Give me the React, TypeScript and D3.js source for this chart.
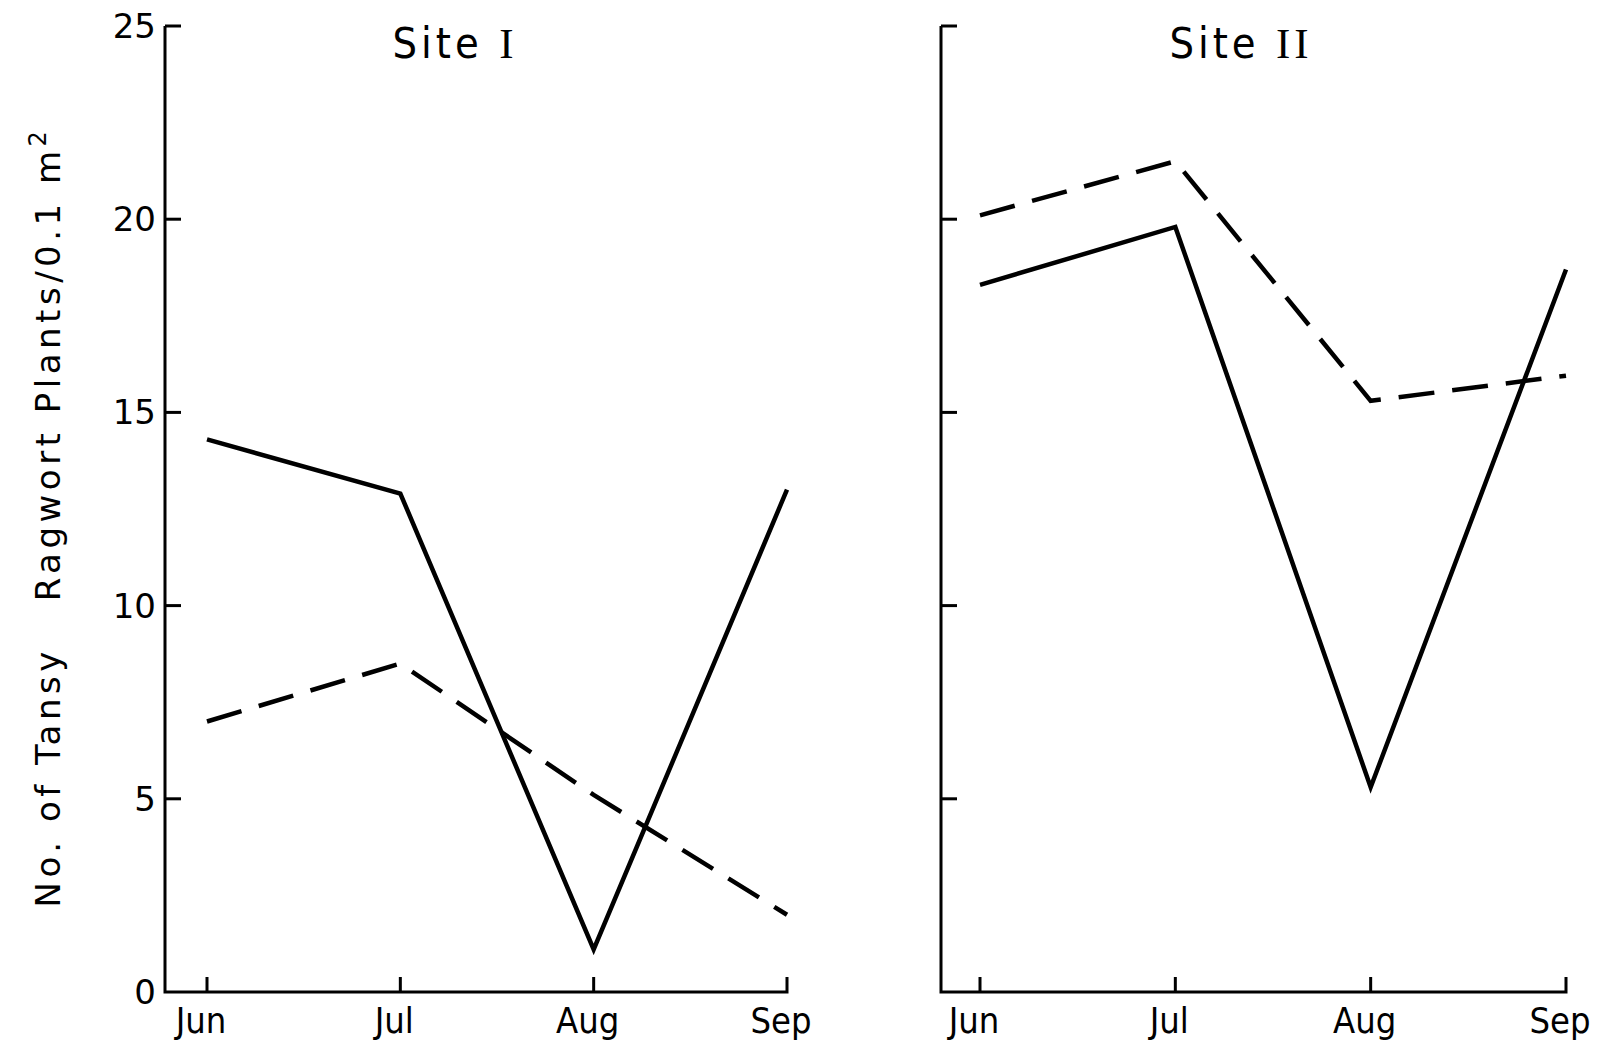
import * as d3 from "d3";

// values
const months = ["Jun", "Jul", "Aug", "Sep"];
const site1Solid = [14.3, 12.9, 1.1, 13.0];
const site1Dashed = [7.0, 8.5, 5.1, 2.0];
const site2Solid = [18.3, 19.8, 5.3, 18.7];
const site2Dashed = [20.1, 21.5, 15.3, 15.95];
const yTicks = [0, 5, 10, 15, 20, 25];

const W = 1613;
const H = 1047;
const narrow = "'Liberation Sans Narrow', 'DejaVu Sans Condensed', 'Liberation Sans', sans-serif";
const round = "'DejaVu Sans', 'Liberation Sans', sans-serif";

const y = d3.scaleLinear().domain([0, 25]).range([992, 26]);

type Panel = {
  title: string;
  numeral: string;
  axisX: number;
  x0: number;
  x1: number;
  titleX: number;
  solid: number[];
  dashed: number[];
  labels: boolean;
};

const panels: Panel[] = [
  { title: "Site ", numeral: "I", axisX: 165, x0: 207, x1: 787, titleX: 455, solid: site1Solid, dashed: site1Dashed, labels: true },
  { title: "Site ", numeral: "II", axisX: 941, x0: 980, x1: 1566, titleX: 1241, solid: site2Solid, dashed: site2Dashed, labels: false },
];

function SitePanel({ p }: { p: Panel }) {
  const x = d3.scalePoint<string>().domain(months).range([p.x0, p.x1]);
  const line = d3
    .line<number>()
    .x((_, i) => x(months[i]) ?? 0)
    .y((d) => y(d));

  return (
    <g>
      {/* axes */}
      <path
        d={`M${p.axisX},${y(25)}V${y(0)}H${p.x1}V${y(0) - 15}`}
        fill="none"
        stroke="#000"
        strokeWidth={3}
      />
      {yTicks
        .filter((t) => t > 0)
        .map((t) => (
          <line key={t} x1={p.axisX} x2={p.axisX + 16} y1={y(t)} y2={y(t)} stroke="#000" strokeWidth={3} />
        ))}
      {months.slice(0, 3).map((m) => (
        <line key={m} x1={x(m)} x2={x(m)} y1={y(0)} y2={y(0) - 15} stroke="#000" strokeWidth={3} />
      ))}
      {p.labels &&
        yTicks.map((t) => (
          <text
            key={t}
            x={p.axisX - 9}
            y={y(t) + 12}
            textAnchor="end"
            fontFamily={round}
            fontSize={34}
          >
            {t}
          </text>
        ))}
      {months.map((m) => (
        <text key={m} x={x(m)} dx={-6} y={1033} textAnchor="middle" fontFamily={narrow} fontSize={36}>
          {m}
        </text>
      ))}
      <text x={p.titleX} y={58} textAnchor="middle" fontFamily={narrow} fontSize={43} letterSpacing={4}>
        {p.title}
        <tspan fontFamily="'Liberation Serif', 'DejaVu Serif', serif">{p.numeral}</tspan>
      </text>
      {/* series */}
      <path d={line(p.solid) ?? ""} fill="none" stroke="#000" strokeWidth={4.5} strokeLinejoin="miter" />
      <path
        d={line(p.dashed) ?? ""}
        fill="none"
        stroke="#000"
        strokeWidth={4.5}
        strokeDasharray="36,18"
        strokeLinejoin="miter"
      />
    </g>
  );
}

export default function App() {
  return (
    <svg
      width={W}
      height={H}
      viewBox={`0 0 ${W} ${H}`}
      style={{ position: "absolute", left: 0, top: 0, background: "#fff" }}
    >
      <rect width={W} height={H} fill="#fff" />
      {panels.map((p) => (
        <SitePanel key={p.numeral} p={p} />
      ))}
      <text
        transform="translate(60,517) rotate(-90)"
        textAnchor="middle"
        fontFamily={round}
        fontSize={34}
        letterSpacing={4.5}
      >
        {"No. of Tansy\u00a0\u00a0\u00a0Ragwort Plants/0.1 m"}
        <tspan dy={-14} fontSize={24}>
          2
        </tspan>
      </text>
    </svg>
  );
}
